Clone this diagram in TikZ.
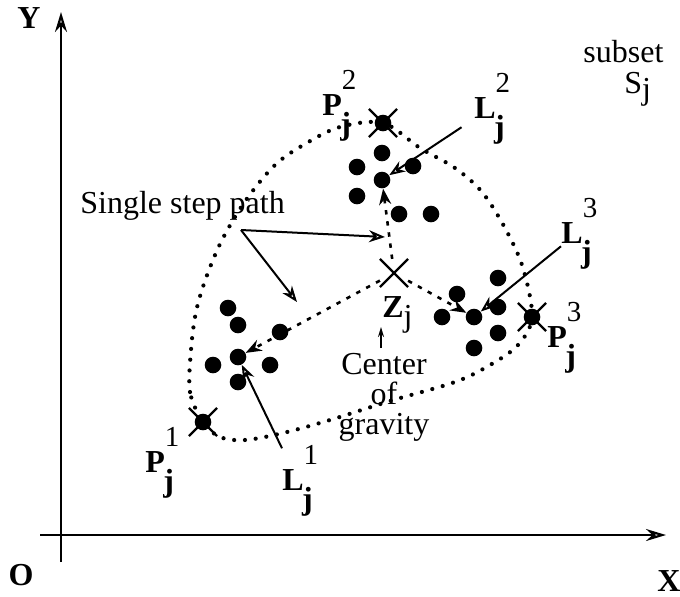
\documentclass[tikz,border=0pt]{standalone}
\usepackage{fontspec}
\setmainfont{Liberation Serif}
\usetikzlibrary{arrows.meta,positioning,calc,shapes.misc}
\newcommand{\pj}[2]{\textbf{#1}\rlap{\raisebox{0.8em}{\fontsize{14.5}{17}\selectfont#2}}\kern-0.05em\raisebox{-0.6em}{\textbf{j}}}

\begin{document}
\begin{tikzpicture}[x=0.5pt, y=-0.5pt,
  pt/.style={circle, fill=black, inner sep=0pt, minimum size=8.3pt},
  crossmark/.style={cross out, draw=black, line width=1.1pt, inner sep=0pt, minimum size=13pt},
  outline/.style={line width=2.1pt, line cap=round, dash pattern=on 0pt off 5.4pt},
  steppath/.style={line width=1.3pt, dash pattern=on 2.2pt off 3.4pt, -{Stealth[open, length=8pt, width=6pt]}},
  ptr/.style={line width=1pt, -{Stealth[open, length=8pt, width=6pt]}},
  axisline/.style={line width=1.1pt, -{Stealth[open, length=10pt, width=6pt]}},
  lbl/.style={inner sep=0pt, anchor=base west, font=\fontsize{16}{18}\selectfont},
  txt/.style={inner sep=0pt, font=\fontsize{16}{15}\selectfont, align=center}
]
\useasboundingbox (0,0) rectangle (680,596);

% axes
\coordinate (O) at (61,535);
\coordinate (ybot) at (61,562);
\coordinate (ytop) at (61,12);
\coordinate (xbeg) at (40,535);
\coordinate (xend) at (666,535);
\draw[axisline] (ybot) -- (ytop);
\draw[axisline] (xbeg) -- (xend);
\node[txt, font=\bfseries\fontsize{16}{18}\selectfont] (ylab) at (29,18) {Y};
\node[txt, font=\bfseries\fontsize{16}{18}\selectfont] (olab) at (21,575) {O};
\node[txt, font=\bfseries\fontsize{16}{18}\selectfont] (xlab) at (669,581) {X};

% points of the subset
\foreach \x/\y in {228/308, 238/325, 280/332, 213/365, 270/365, 238/382,
                   382/153, 357/167, 413/166, 357/196, 399/214, 431/214,
                   498/278, 457/294, 498/307, 442/317, 498/333, 474/348}
  \node[pt] at (\x,\y) {};
\node[pt] (L1) at (238,357) {};
\node[pt] (L2) at (382,180) {};
\node[pt] (L3) at (474,317) {};

% extreme points and center
\node[crossmark] (P1) at (203,422) {};
\node[pt] at (P1) {};
\node[crossmark] (P2) at (383,123) {};
\node[pt] at (P2) {};
\node[crossmark] (P3) at (532,317) {};
\node[pt] at (P3) {};
\node[crossmark] (Z) at (394,273) {};

% boundary of S_j
\draw[outline] plot[smooth cycle, tension=0.55] coordinates {
  (P1.center) (190,392) (191,350) (196,312) (206,278) (222,240) (246,200)
  (275,165) (305,144) (340,127) (P2.center) (420,148) (455,168) (482,192)
  (505,228) (523,268) (P3.center) (518,345) (490,365) (455,382) (390,401)
  (330,420) (283,433) (245,440) (220,437)};

% single step paths
\draw[steppath] (Z) -- (L1);
\draw[steppath] (Z) -- (L2);
\draw[steppath] (Z) -- (L3);

% labels
\node[lbl] (lP1) at (145,472) {\pj{P}{1}};
\node[lbl] (lL1) at (282,490) {\pj{L}{1}};
\node[lbl] (lP2) at (322,115) {\pj{P}{2}};
\node[lbl] (lL2) at (474,118) {\pj{L}{2}};
\node[lbl] (lP3) at (547,347) {\pj{P}{3}};
\node[lbl] (lL3) at (561,243) {\pj{L}{3}};
\node[lbl] (lZ) at (382,317) {\textbf{Z}\raisebox{-0.3em}{j}};
\node[lbl] (lsub) at (583,62) {subset};
\node[lbl] (lS) at (624,93) {S\raisebox{-0.2em}{j}};

\draw[ptr] (lL1) -- (L1);
\draw[ptr, shorten <=7.5pt] (lL2) -- (L2);
\draw[ptr] (lL3) -- (L3);

\node[txt, anchor=base west] (stepnote) at (80,213) {Single step path};
\coordinate (fork) at (241,230);
\coordinate (aim1) at (385,237);
\coordinate (aim2) at (297,302);
\draw[ptr] (fork) -- (aim1);
\draw[ptr] (fork) -- (aim2);

\node[txt, anchor=north] (cog) at (384,353) {Center\\of\\gravity};
\draw[line width=0.8pt, -{Stealth[length=5pt, width=3pt]}] ($(cog.north)+(-3,-5)$) -- ++(0,-21);
\end{tikzpicture}
\end{document}
